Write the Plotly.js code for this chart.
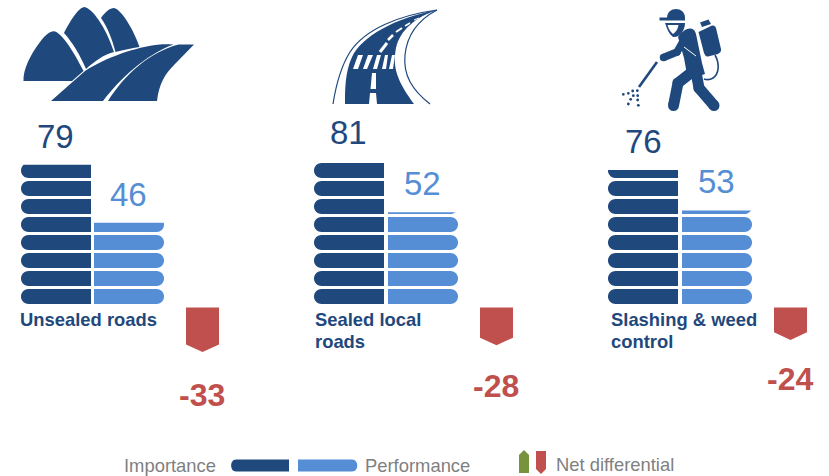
<!DOCTYPE html>
<html><head><meta charset="utf-8">
<script src="https://cdn.plot.ly/plotly-3.0.1.min.js"></script>
<style>html,body{margin:0;padding:0;background:#fff}#c{width:829px;height:476px}</style>
</head><body><div id="c"></div>
<script>
// ---- data ----
const categories = ["Unsealed roads", "Sealed local<br>roads", "Slashing &amp; weed<br>control"];
const importance = [79, 81, 76];
const performance = [46, 52, 53];
const netDifferential = [-33, -28, -24];
const legendLabels = ["Importance", "Performance", "Net differential"];

// ---- layout constants (pixels of the 829x476 page) ----
const W = 829, H = 476;
const NAVY = "#1F497D", BLUE = "#558ED5", RED = "#C0504D", GREEN = "#77933C", GREY = "#7F7F7F";
const impLeft = [21, 314, 608], perfLeft = [94, 388, 682], barW = 70;
const chevLeft = [186, 480, 774], chevW = 33;
const impLabelX = [55.5, 348.5, 643.5], perfLabelX = [128.5, 422.5, 716.5];
const catX = [18, 313, 609];
const baseY = 303.7, pxPerUnit = 1.76, chevTop = 307.5, chevPx = 1.35;
const rowPitch = 18 / pxPerUnit, rowH = 15 / pxPerUnit, nRows = 8;
const radiusPx = 7.5, radiusU = radiusPx / pxPerUnit;

function rowOutline(left, right, roundLeft, value) {
  const xs = [], ys = [];
  for (let k = 0; k < nRows; k++) {
    const y0 = k * rowPitch - 0.2, y1 = y0 + rowH, top = Math.min(y1, value);
    if (top <= y0) continue;
    const inset = y => {
      let d = 0;
      if (y < y0 + radiusU) d = (y0 + radiusU - y) / radiusU;
      else if (y > y1 - radiusU) d = (y - (y1 - radiusU)) / radiusU;
      return radiusPx * (1 - Math.sqrt(Math.max(0, 1 - d * d)));
    };
    const steps = 30;
    const flat = roundLeft ? right : left;
    xs.push(flat); ys.push(y0);
    for (let i = 0; i <= steps; i++) {
      const y = y0 + (top - y0) * i / steps, d = inset(y);
      xs.push(roundLeft ? left + d : right - d); ys.push(y);
    }
    xs.push(flat); ys.push(top);
    xs.push(flat); ys.push(y0);
    xs.push(null); ys.push(null);
  }
  return {xs, ys};
}
function barTrace(lefts, values, roundLeft, color, name) {
  let X = [], Y = [];
  values.forEach((v, i) => {
    const o = rowOutline(lefts[i], lefts[i] + barW, roundLeft, v);
    X = X.concat(o.xs); Y = Y.concat(o.ys);
  });
  return {type: "scatter", mode: "lines", x: X, y: Y, fill: "toself", fillcolor: color,
          line: {width: 0, color: color, simplify: false}, name: name, hoverinfo: "skip", showlegend: false, xaxis: "x", yaxis: "y"};
}
function chevTrace() {
  let X = [], Y = [];
  const tipU = 7.6 / chevPx;
  netDifferential.forEach((v, i) => {
    const l = chevLeft[i], r = l + chevW;
    X.push(l, r, r, (l + r) / 2, l, l, null);
    Y.push(0, 0, v + tipU, v, v + tipU, 0, null);
  });
  return {type: "scatter", mode: "lines", x: X, y: Y, fill: "toself", fillcolor: RED,
          line: {width: 0, color: RED, simplify: false}, hoverinfo: "skip", showlegend: false, xaxis: "x", yaxis: "y3"};
}
const anchorTrace = {type: "scatter", mode: "none", x: [0], y: [0], hoverinfo: "skip", showlegend: false, xaxis: "x", yaxis: "y2"};

// ---- decorative shapes, drawn on the page-pixel axis ----
const P = (path, fill) => ({type: "path", xref: "x", yref: "y2", path, fillcolor: fill || NAVY, line: {width: 0}, layer: "above"});
const S = (path, color, w) => ({type: "path", xref: "x", yref: "y2", path, line: {color: color, width: w}, layer: "above"});
const C = (cx, cy, r, fill) => ({type: "circle", xref: "x", yref: "y2", x0: cx - r, x1: cx + r, y0: cy - r, y1: cy + r,
  fillcolor: fill || NAVY, line: {width: 0}, layer: "above"});
const limb = (pts, w) => [S("M" + pts.map(p => p.join(",")).join(" L"), NAVY, w)].concat(pts.map(p => C(p[0], p[1], w / 2)));
const dots = [[70,283],[85,280],[98,273],[112,272],[100,287],[113,287],[92,298],[113,300],[85,312],[115,316]];
const iconShapes = [
  // opera house
  P("M23.5,81 C23,70 30,55 40,42 C46,34 51,30.5 55,31.5 C62,34 73,50 83.5,71 L72,81 Z"),
  P("M64,33 C70,21 79,7 84.5,7 C92,8 106,27 114,52 C103,55 95,61 86,69 C80,55 73,43 64,33 Z"),
  P("M101,18 C105,12 110,8 114,8 C121,9 134,30 139.5,47 C131,48 124,50 115.5,52 C112,39 108,28 101,18 Z"),
  P("M51,101 L103,101 C120,79 145,55 173.5,44.5 C168,44 163,44 160,44.5 C135,47 105,58 85,71 Z"),
  P("M108,101 L157,101 C159,84 165,74 174,65 L194,44.5 L178.5,44.5 C150,52 125,74 108,101 Z"),
  // road
  S("M333,104 C336,85 340,68 350,52 C365,29 400,15 437,10", NAVY, 1.2),
  S("M437,10 C418,20 407,35 405,55 C403,75 412,90 430,104", NAVY, 1.2),
  P("M345,104 C345,90 345,72 352,57 C362,36 395,18 437,10 C416,17 400,30 396,48 C392,68 398,82 414,104 L377,104 L376,93 L370,93 L369,104 Z"),
  P("M358,55 L363,55 L358,69 L353,69 Z M368,55 L373,55 L367,69 L363,69 Z M377,55 L381,55 L377,69 L373,69 Z M385,55 L388,55 L386,69 L382,69 Z M392,55 L395,55 L393,69 L389,69 Z", "#fff"),
  P("M372,73 L376,73 L376,89 L370.5,89 Z", "#fff"),
  S("M380,52 L387,43", "#fff", 3), S("M388,40 L393,35", "#fff", 2.5), S("M396,32 L402,28", "#fff", 2),
  S("M405,26 L410,23", "#fff", 1.5), S("M414,20 L419,18", "#fff", 1),
  // sprayer: hat, face
  P("M667,18 C667,6 685,6 685,18 Z"),
  S("M659.5,19 L685,19", NAVY, 3),
  P("M665,23 L685,23 C685,31 679,38 673,37 C669,34 667,29 665,23 Z"),
  P("M667.5,25 L678.5,25 C678,29 676,32 673,34 C670.5,32 668.5,29 667.5,25 Z", "#fff"),
  // torso
  P("M678,37 C682,31 687,28 691,28.5 C694,29 695,31 696,34 L702,63 L705,74 L688,80 L684,58 Z")
].concat(
  limb([[663.5,57.5],[677,52],[686,36]], 7.5),
  limb([[692,72],[678,83],[673.5,105.5]], 11),
  limb([[696,72],[699,88],[714,105.5]], 11),
  [
    S("M684,47 L696,56", "#fff", 1),
    // tank, cap, hose
    P("M698.5,32 L711,26 C714,25 715,26 716,28 L721,49 C721.5,51 720,53 718,54 L708,56.5 C706,57 705,55 704,53 Z"),
    P("M700,22.5 L708.5,19.5 L711,24 L702,27 Z"),
    S("M715,55 C720,64 719,74 713,78 C710,80 707,80 704,79", NAVY, 1.6),
    // wand
    S("M657,62 L639,87", NAVY, 2.6)
  ],
  dots.map(d => C(600 + d[0] / 3, d[1] / 3, 1.4))
);
const legendShapes = [
  P("M236,459.5 L289,459.5 L289,471.5 L236,471.5 C229.5,471.5 229.5,459.5 236,459.5 Z"),
  P("M298,459.5 L352,459.5 C359,459.5 359,471.5 352,471.5 L298,471.5 Z", BLUE),
  P("M519,455 L524,450 L529,455 L529,473 L519,473 Z", GREEN),
  P("M536,451 L546,451 L546,469 L541,474 L536,469 Z", RED)
];

// ---- annotations ----
const ann = [];
const T = (text, x, y, yref, size, color, bold, anchor, yshift) => ann.push({text: bold ? "<b>" + text + "</b>" : text,
  x, y, xref: "x", yref, yshift: yshift || 0, showarrow: false, xanchor: anchor || "center", yanchor: "middle", align: "left",
  font: {family: "Liberation Sans, Arial, sans-serif", size, color}});
importance.forEach((v, i) => T(String(v), impLabelX[i], v, "y", 33, NAVY, false, "center", 28.5));
performance.forEach((v, i) => T(String(v), perfLabelX[i], v, "y", 33, BLUE, false, "center", 28.5));
categories.forEach((c, i) => c.split("<br>").forEach((line, j) =>
  T(line, catX[i], 319 + 22 * j, "y2", 18.4, NAVY, true, "left")));
netDifferential.forEach((v, i) => T(String(v), chevLeft[i] + chevW / 2 - 1, v, "y", 32, RED, true, "center", -33.2));
T(legendLabels[0], 218, 465.5, "y2", 18.4, GREY, false, "right");
T(legendLabels[1], 363, 465.5, "y2", 18.4, GREY, false, "left");
T(legendLabels[2], 554, 464.5, "y2", 18.4, GREY, false, "left");

const hidden = {visible: false, fixedrange: true};
const layout = {
  width: W, height: H, margin: {l: 0, r: 0, t: 0, b: 0}, showlegend: false,
  paper_bgcolor: "#fff", plot_bgcolor: "#fff",
  xaxis: Object.assign({range: [0, W]}, hidden),
  yaxis: Object.assign({range: [-(H - baseY) / pxPerUnit, baseY / pxPerUnit]}, hidden),
  yaxis2: Object.assign({range: [H, 0], overlaying: "y"}, hidden),
  yaxis3: Object.assign({range: [-(H - chevTop) / chevPx, chevTop / chevPx], overlaying: "y"}, hidden),
  shapes: iconShapes.concat(legendShapes),
  annotations: ann
};
Plotly.newPlot("c", [
  barTrace(impLeft, importance, true, NAVY, "Importance"),
  barTrace(perfLeft, performance, false, BLUE, "Performance"),
  chevTrace(),
  anchorTrace
], layout, {staticPlot: true, displayModeBar: false});
</script></body></html>
